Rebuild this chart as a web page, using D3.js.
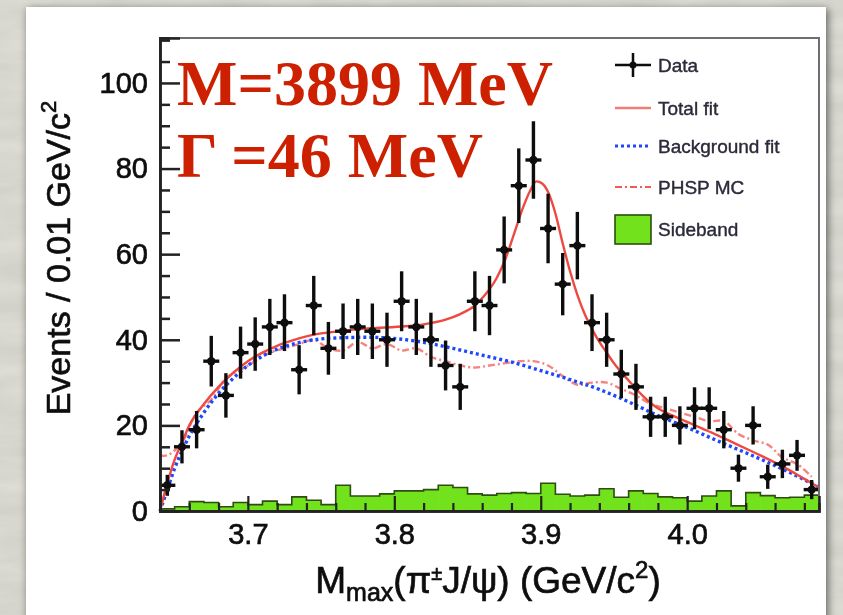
<!DOCTYPE html>
<html>
<head>
<meta charset="utf-8">
<script src="https://cdn.jsdelivr.net/npm/d3@7/dist/d3.min.js"></script>
<style>
  html, body { margin: 0; padding: 0; background: #d3d3cb; }
  svg { display: block; }
</style>
</head>
<body>
<div id="chart"></div>
<script>
// bin centres, 0.01 GeV/c^2 bins from 3.64 to 4.09
var binCentres = [3.645, 3.655, 3.665, 3.675, 3.685, 3.695, 3.705, 3.715, 3.725, 3.735,
  3.745, 3.755, 3.765, 3.775, 3.785, 3.795, 3.805, 3.815, 3.825, 3.835,
  3.845, 3.855, 3.865, 3.875, 3.885, 3.895, 3.905, 3.915, 3.925, 3.935,
  3.945, 3.955, 3.965, 3.975, 3.985, 3.995, 4.005, 4.015, 4.025, 4.035,
  4.045, 4.055, 4.065, 4.075, 4.085];

// events per bin (data)
var dataCounts = [6, 15, 19, 35, 27, 37, 39, 43, 44, 33,
  48, 38, 42, 43, 42, 40, 49, 43, 40, 34,
  29, 49, 48, 61, 76, 82, 66, 53, 62, 44,
  40, 32, 29, 22, 22, 20, 24, 24, 19, 10,
  20, 8, 11, 13, 5];

// sideband histogram
var sideband = [0.5, 1.0, 2.2, 2.0, 1.0, 2.0, 1.5, 2.3, 1.5, 3.3,
  2.5, 1.5, 6.0, 3.5, 3.5, 4.0, 4.7, 4.7, 5.0, 6.0,
  5.5, 4.0, 3.7, 4.1, 4.3, 4.1, 6.5, 3.9, 3.5, 3.7,
  5.2, 3.2, 4.7, 4.1, 3.3, 3.1, 2.3, 3.5, 4.7, 1.2,
  4.3, 3.6, 3.1, 3.2, 3.7];

// PHSP MC shape
var phsp = [13, 16, 23, 26, 31, 33, 35, 37, 38, 39,
  40, 38, 37.5, 39.5, 38, 39, 37.5, 38, 36, 35,
  34, 33.5, 34, 34.5, 35, 35, 34, 31.5, 29.5, 30,
  30, 28.5, 27, 25, 24, 23, 22, 21, 21, 18,
  16.5, 15.5, 12.5, 11, 8];

// total fit curve
var totalX = [3.640, 3.645, 3.650, 3.655, 3.660, 3.670, 3.680, 3.690, 3.700, 3.710,
  3.720, 3.730, 3.740, 3.750, 3.760, 3.780, 3.800, 3.820, 3.835, 3.845,
  3.855, 3.862, 3.870, 3.876, 3.882, 3.888, 3.893, 3.897, 3.901, 3.905,
  3.910, 3.915, 3.920, 3.925, 3.930, 3.935, 3.940, 3.945, 3.950, 3.960,
  3.970, 3.980, 3.990, 4.000, 4.010, 4.020, 4.030, 4.040, 4.050, 4.060,
  4.070, 4.080, 4.090];
var totalY = [0, 6.5, 12, 16, 20, 25, 29, 32.3, 35, 37,
  38.6, 39.8, 40.8, 41.5, 41.9, 42.6, 43, 43.6, 44.7, 46,
  48, 50.5, 54.5, 59, 65, 71, 75, 77, 76.5, 74.5,
  69.5, 62.5, 56, 50.5, 46, 42.5, 39.5, 37, 34.5, 30.5,
  26.8, 24, 22.3, 20.8, 19.3, 17.8, 16.2, 14.6, 13, 11.3,
  9.5, 7.5, 5.5];

// background fit curve
var bkgX = [3.640, 3.645, 3.650, 3.655, 3.660, 3.670, 3.680, 3.690, 3.700, 3.710,
  3.720, 3.730, 3.740, 3.750, 3.760, 3.780, 3.800, 3.820, 3.840, 3.860,
  3.880, 3.900, 3.920, 3.940, 3.960, 3.980, 4.000, 4.020, 4.040, 4.060,
  4.080, 4.090];
var bkgY = [0, 5, 10, 14, 17.5, 23, 27.5, 31, 34, 36.2,
  37.8, 38.9, 39.7, 40.2, 40.4, 40.6, 40.3, 39.4, 38, 36.4,
  34.8, 32.8, 30.7, 28.4, 25.5, 22.3, 19.5, 16.5, 13.6, 10.6,
  7.3, 5.5];

var yMajor = [0, 20, 40, 60, 80, 100];
var xMajor = [3.7, 3.8, 3.9, 4.0];
var legendLabels = ['Data', 'Total fit', 'Background fit', 'PHSP MC', 'Sideband'];

var W = 843, H = 615;
var svg = d3.select('#chart').append('svg').attr('width', W).attr('height', H);
var defs = svg.append('defs');

// marble-ish backdrop
var tex = defs.append('filter').attr('id', 'tex').attr('x', 0).attr('y', 0).attr('width', 1).attr('height', 1);
tex.append('feTurbulence').attr('type', 'fractalNoise').attr('baseFrequency', '0.012 0.05')
  .attr('numOctaves', 4).attr('seed', 7).attr('result', 'n');
tex.append('feColorMatrix').attr('type', 'matrix')
  .attr('values', '0 0 0 0 0.88  0 0 0 0 0.88  0 0 0 0 0.84  0.7 0 0 0 -0.2');
var shadow = defs.append('filter').attr('id', 'shadow').attr('x', -0.05).attr('y', -0.05).attr('width', 1.1).attr('height', 1.1);
shadow.append('feDropShadow').attr('dx', 2).attr('dy', 2).attr('stdDeviation', 4).attr('flood-opacity', 0.55);
var soft = defs.append('filter').attr('id', 'soft');
soft.append('feGaussianBlur').attr('stdDeviation', 0.7);

svg.append('rect').attr('width', W).attr('height', H).attr('fill', '#d2d2ca');
svg.append('rect').attr('width', W).attr('height', H).attr('filter', 'url(#tex)');
svg.append('rect').attr('x', 26).attr('y', 7).attr('width', 800).attr('height', 640)
  .attr('fill', '#ffffff').attr('filter', 'url(#shadow)');

var g = svg.append('g').attr('filter', 'url(#soft)');

var x = d3.scaleLinear().domain([3.64, 4.09]).range([160, 819]);
var y = d3.scaleLinear().domain([0, 110.5]).range([511, 38]);
var binW = 0.01;

// sideband histogram
g.append('g').selectAll('rect').data(sideband).enter().append('rect')
  .attr('x', function(d, i) { return x(binCentres[i] - binW / 2); })
  .attr('y', function(d) { return y(d); })
  .attr('width', function(d, i) { return x(binCentres[i] + binW / 2) - x(binCentres[i] - binW / 2) + 0.5; })
  .attr('height', function(d) { return y(0) - y(d); })
  .attr('fill', '#72e21e');
var stepPts = [];
sideband.forEach(function(d, i) {
  stepPts.push([binCentres[i] - binW / 2, d]);
  stepPts.push([binCentres[i] + binW / 2, d]);
});
g.append('path')
  .attr('d', d3.line().x(function(d) { return x(d[0]); }).y(function(d) { return y(d[1]); })(stepPts))
  .attr('fill', 'none').attr('stroke', '#2d4d12').attr('stroke-width', 1.6);

// PHSP MC
var phspPts = [[3.64, 13]].concat(phsp.map(function(d, i) { return [binCentres[i], d]; }));
g.append('path')
  .attr('d', d3.line().x(function(d) { return x(d[0]); }).y(function(d) { return y(d[1]); })
    .curve(d3.curveCatmullRom.alpha(0.5))(phspPts))
  .attr('fill', 'none').attr('stroke', '#f25a55').attr('stroke-opacity', 0.75)
  .attr('stroke-width', 2.4).attr('stroke-dasharray', '7,3,2,3');

// background fit
var bkgPts = bkgX.map(function(d, i) { return [d, bkgY[i]]; });
g.append('path')
  .attr('d', d3.line().x(function(d) { return x(d[0]); }).y(function(d) { return y(d[1]); })
    .curve(d3.curveMonotoneX)(bkgPts))
  .attr('fill', 'none').attr('stroke', '#1f48ff').attr('stroke-width', 3.4)
  .attr('stroke-dasharray', '3,3');

// total fit
var totPts = totalX.map(function(d, i) { return [d, totalY[i]]; });
g.append('path')
  .attr('d', d3.line().x(function(d) { return x(d[0]); }).y(function(d) { return y(d[1]); })
    .curve(d3.curveMonotoneX)(totPts))
  .attr('fill', 'none').attr('stroke', '#ee4a40').attr('stroke-width', 2.4);

// data points with sqrt(N) errors
var pts = g.append('g').selectAll('g').data(dataCounts).enter().append('g')
  .attr('transform', function(d, i) { return 'translate(' + x(binCentres[i]) + ',0)'; });
pts.append('line')
  .attr('y1', function(d) { return y(d + Math.sqrt(d)); })
  .attr('y2', function(d) { return y(Math.max(0, d - Math.sqrt(d))); })
  .attr('stroke', '#111').attr('stroke-width', 3.4);
pts.append('line')
  .attr('x1', -8).attr('x2', 8)
  .attr('y1', function(d) { return y(d); }).attr('y2', function(d) { return y(d); })
  .attr('stroke', '#111').attr('stroke-width', 3.4);
pts.append('circle').attr('r', 4.2).attr('cy', function(d) { return y(d); }).attr('fill', '#111');

// axes: inward ticks like the ROOT frame
var font = '"Liberation Sans", Arial, Helvetica, sans-serif';
var yAxis = d3.axisLeft(y).tickValues(yMajor).tickSize(-20).tickPadding(12).tickFormat(d3.format('d'));
var yMinor = d3.axisLeft(y).tickValues(d3.range(5, 111, 5).filter(function(v) { return v % 20; }))
  .tickSize(-10).tickFormat('');
var xAxis = d3.axisBottom(x).tickValues(xMajor).tickSize(-15).tickPadding(12).tickFormat(d3.format('.1f'));
var xMinor = d3.axisBottom(x).tickValues([3.64, 3.66, 3.68, 3.72, 3.74, 3.76, 3.78, 3.82, 3.84, 3.86, 3.88,
  3.92, 3.94, 3.96, 3.98, 4.02, 4.04, 4.06, 4.08]).tickSize(-8).tickFormat('');

g.append('rect').attr('x', 160).attr('y', 38).attr('width', 659).attr('height', 473)
  .attr('fill', 'none').attr('stroke', '#6e6e6e').attr('stroke-width', 2);

function styleText(sel, size) {
  sel.attr('font-family', font).attr('font-size', size).attr('fill', '#111')
    .attr('stroke', '#111').attr('stroke-width', 0.7);
}
[yMinor, yAxis].forEach(function(ax) {
  var a = g.append('g').attr('transform', 'translate(160,0)').call(ax);
  a.select('.domain').attr('stroke', '#222').attr('stroke-width', 2.5);
  a.selectAll('.tick line').attr('stroke', '#222').attr('stroke-width', 2.5);
  styleText(a.selectAll('text'), 29);
});
[xMinor, xAxis].forEach(function(ax) {
  var a = g.append('g').attr('transform', 'translate(0,511)').call(ax);
  a.select('.domain').attr('stroke', '#222').attr('stroke-width', 2.5);
  a.selectAll('.tick line').attr('stroke', '#222').attr('stroke-width', 2.2);
  styleText(a.selectAll('text'), 29);
});

// axis titles
var yt = g.append('text').attr('transform', 'translate(70,258) rotate(-90)').attr('text-anchor', 'middle');
styleText(yt, 34);
yt.append('tspan').text('Events / 0.01 GeV/c');
yt.append('tspan').attr('font-size', 22).attr('dy', -14).text('2');

var xt = g.append('text').attr('x', 488).attr('y', 593).attr('text-anchor', 'middle');
styleText(xt, 37);
xt.append('tspan').text('M');
xt.append('tspan').attr('font-size', 25).attr('dy', 8).text('max');
xt.append('tspan').attr('dy', -8).text('(\u03c0');
xt.append('tspan').attr('font-size', 20).attr('dy', -13).text('\u00b1');
xt.append('tspan').attr('dy', 13).text('J/\u03c8) (GeV/c');
xt.append('tspan').attr('font-size', 24).attr('dy', -15).text('2');
xt.append('tspan').attr('dy', 15).text(')');

// legend
var lg = g.append('g');
var rowY = [65, 108, 146, 187, 229];
var lx0 = 615, lx1 = 651;
lg.append('line').attr('x1', lx0).attr('x2', lx1).attr('y1', rowY[0]).attr('y2', rowY[0])
  .attr('stroke', '#111').attr('stroke-width', 2.5);
lg.append('line').attr('x1', 633).attr('x2', 633).attr('y1', rowY[0] - 12).attr('y2', rowY[0] + 12)
  .attr('stroke', '#111').attr('stroke-width', 2.5);
lg.append('circle').attr('cx', 633).attr('cy', rowY[0]).attr('r', 3.5).attr('fill', '#111');
lg.append('line').attr('x1', lx0).attr('x2', lx1).attr('y1', rowY[1]).attr('y2', rowY[1])
  .attr('stroke', '#f27b76').attr('stroke-width', 2.4);
lg.append('line').attr('x1', lx0).attr('x2', lx1).attr('y1', rowY[2]).attr('y2', rowY[2])
  .attr('stroke', '#1f48ff').attr('stroke-width', 3).attr('stroke-dasharray', '3,3');
lg.append('line').attr('x1', lx0).attr('x2', lx1).attr('y1', rowY[3]).attr('y2', rowY[3])
  .attr('stroke', '#f25a55').attr('stroke-width', 2.2).attr('stroke-dasharray', '7,3,2,3');
lg.append('rect').attr('x', lx0).attr('y', rowY[4] - 14).attr('width', 36).attr('height', 29)
  .attr('fill', '#72e21e').attr('stroke', '#2d4d12').attr('stroke-width', 1.6);
var labs = lg.selectAll('text.lab').data(legendLabels).enter().append('text').attr('class', 'lab')
  .attr('x', 658).attr('y', function(d, i) { return rowY[i] + 7; })
  .text(function(d) { return d; });
styleText(labs, 19);
labs.attr('fill', '#2a2a3a').attr('stroke', '#2a2a3a').attr('stroke-width', 0.4);

// fit result annotation
var ann = svg.append('g').attr('font-family', '"Liberation Serif", "Times New Roman", serif')
  .attr('font-weight', 'bold').attr('font-size', 64).attr('fill', '#cc2000');
ann.append('text').attr('x', 177).attr('y', 105).text('M=3899 MeV');
ann.append('text').attr('x', 177).attr('y', 177).text('\u0393 =46 MeV');
</script>
</body>
</html>
